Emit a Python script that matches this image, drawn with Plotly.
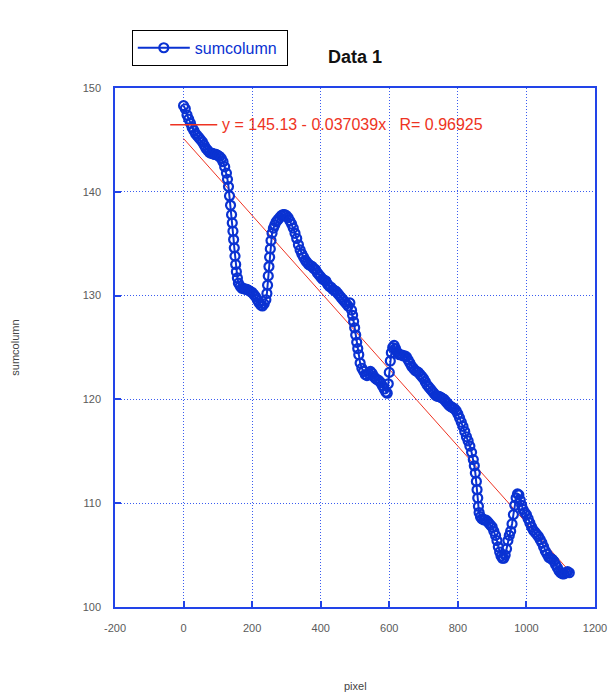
import plotly.graph_objects as go

# ---- data ----
pixel = [0, 5, 10, 15, 20, 25, 30, 35, 40, 45, 50, 55, 60, 65, 70, 75, 80, 85, 90, 95,
         100, 105, 110, 115, 120, 125, 128, 131, 134, 137, 140, 142, 144, 146, 148, 150,
         152, 154, 157, 160, 165, 170, 175, 180, 185, 190, 195, 200, 205, 210, 215, 220,
         225, 230, 235, 240, 243, 245, 247, 249, 251, 253, 255, 258, 262, 266, 270, 275,
         280, 285, 290, 295, 300, 305, 310, 315, 320, 325, 330, 335, 340, 345, 350, 355,
         360, 365, 370, 375, 380, 385, 390, 395, 400, 405, 410, 415, 420, 425, 430, 435,
         440, 445, 450, 455, 460, 465, 470, 475, 480, 485, 490, 493, 496, 499, 502, 505,
         508, 511, 515, 520, 525, 530, 535, 540, 545, 550, 555, 560, 565, 570, 575, 580,
         585, 590, 594, 597, 600, 603, 606, 610, 614, 618, 622, 626, 630, 635, 640, 645,
         650, 655, 660, 665, 670, 675, 680, 685, 690, 695, 700, 705, 710, 715, 720, 725,
         730, 735, 740, 745, 750, 755, 760, 765, 770, 775, 780, 785, 790, 795, 800, 805,
         810, 815, 820, 825, 830, 835, 840, 845, 848, 851, 854, 856, 858, 860, 862, 866,
         870, 875, 880, 885, 890, 895, 900, 905, 910, 914, 918, 922, 926, 930, 934, 938,
         942, 946, 950, 954, 958, 962, 966, 970, 974, 978, 982, 986, 990, 995, 1000, 1005,
         1010, 1015, 1020, 1025, 1030, 1035, 1040, 1045, 1050, 1055, 1060, 1065, 1070, 1075,
         1080, 1085, 1090, 1095, 1100, 1105, 1110, 1115, 1120, 1125]

sumcolumn = [148.3, 148.0, 147.4, 147.0, 146.6, 146.2, 145.9, 145.6, 145.4, 145.2, 145.0, 144.8,
             144.5, 144.2, 144.0, 143.8, 143.7, 143.7, 143.6, 143.6, 143.5, 143.4, 143.2, 142.9,
             142.4, 141.8, 141.2, 140.5, 139.6, 138.7, 137.8, 137.0, 136.2, 135.4, 134.6, 133.8,
             133.0, 132.3, 131.7, 131.2, 130.9, 130.7, 130.7, 130.6, 130.6, 130.5, 130.4, 130.3,
             130.1, 129.9, 129.6, 129.3, 129.1, 129.0, 129.2, 129.6, 130.2, 131.0, 131.9, 132.8,
             133.7, 134.5, 135.3, 136.0, 136.5, 136.8, 137.1, 137.3, 137.5, 137.7, 137.8, 137.8,
             137.7, 137.5, 137.2, 136.9, 136.5, 136.0, 135.5, 134.9, 134.4, 134.0, 133.7, 133.4,
             133.2, 133.0, 132.9, 132.8, 132.6, 132.5, 132.2, 132.0, 131.8, 131.6, 131.5, 131.4,
             131.1, 130.9, 130.8, 130.6, 130.5, 130.4, 130.2, 130.0, 129.8, 129.6, 129.4, 129.2,
             129.0, 129.3, 128.6, 128.1, 127.5, 126.9, 126.2, 125.5, 124.9, 124.3, 123.5, 123.0,
             122.7, 122.4, 122.3, 122.5, 122.7, 122.5, 122.2, 122.0, 121.9, 121.8, 121.6, 121.3,
             121.0, 120.7, 120.6, 121.5, 122.6, 123.7, 124.5, 125.0, 125.2, 124.9, 124.6, 124.4,
             124.3, 124.3, 124.2, 124.2, 124.1, 123.8, 123.5, 123.2, 123.0, 122.8, 122.7, 122.6,
             122.4, 122.2, 122.0, 121.7, 121.4, 121.2, 121.0, 120.8, 120.6, 120.4, 120.3, 120.3,
             120.2, 120.1, 120.0, 119.8, 119.6, 119.4, 119.3, 119.2, 119.1, 118.9, 118.6, 118.2,
             117.8, 117.4, 116.9, 116.4, 116.0, 115.5, 114.9, 114.2, 113.6, 112.9, 112.1, 111.3,
             110.5, 109.7, 109.1, 108.7, 108.5, 108.4, 108.4, 108.3, 108.1, 107.9, 107.7, 107.3,
             106.9, 106.4, 105.8, 105.3, 104.9, 104.7, 104.7, 105.0, 105.6, 106.4, 106.9, 107.3,
             108.0, 108.9, 109.8, 110.5, 110.9, 110.8, 110.3, 109.8, 109.4, 109.1, 108.9, 108.5,
             108.1, 107.7, 107.4, 107.2, 107.0, 106.8, 106.5, 106.2, 105.8, 105.4, 105.1, 104.8,
             104.7, 104.6, 104.4, 104.1, 103.8, 103.5, 103.3, 103.2, 103.2, 103.3, 103.4, 103.3]

# linear fit as printed on the chart
fit_intercept = 145.13
fit_slope = -0.037039
fit_r = 0.96925

x_ticks = [-200, 0, 200, 400, 600, 800, 1000, 1200]
x_tick_labels = ["-200", "0", "200", "400", "600", "800", "1000", "1200"]
y_ticks = [100, 110, 120, 130, 140, 150]
y_tick_labels = ["100", "110", "120", "130", "140", "150"]

BLUE_AX = "#2244e8"
BLUE_DATA = "#0a32d2"
RED = "#ee3322"

fit_x = [pixel[0], pixel[-1]]
fit_y = [fit_intercept + fit_slope * v for v in fit_x]

fig = go.Figure()
fig.add_trace(go.Scatter(x=fit_x, y=fit_y, mode="lines",
                         line=dict(color=RED, width=1), showlegend=False,
                         hoverinfo="skip"))
fig.add_trace(go.Scatter(x=pixel, y=sumcolumn, mode="lines+markers", name="sumcolumn\u00a0",
                         line=dict(color=BLUE_DATA, width=2),
                         marker=dict(symbol="circle-open", size=9,
                                     line=dict(color=BLUE_DATA, width=2.2))))

axis_common = dict(showline=True, linecolor=BLUE_AX, linewidth=1.5, mirror=True,
                   showgrid=True, gridcolor="#3a5cf0", gridwidth=1, griddash="1px,2px",
                   ticks="inside", ticklen=6, tickcolor=BLUE_AX, tickwidth=1.5,
                   zeroline=False, automargin=False,
                   tickfont=dict(family="Liberation Sans, Arial", size=11, color="#5a5a5a"))

fig.update_xaxes(range=[-200, 1200], tickvals=x_ticks, ticktext=x_tick_labels,
                 ticklabelstandoff=10, **axis_common)
fig.update_yaxes(range=[100, 150], tickvals=y_ticks, ticktext=y_tick_labels,
                 ticklabelstandoff=10, **axis_common)

fig.update_layout(
    width=610, height=692,
    margin=dict(l=115, r=15, t=88, b=85),
    paper_bgcolor="white", plot_bgcolor="white",
    font=dict(family="Liberation Sans, Arial", color="#333333"),
    showlegend=True,
    legend=dict(x=0.035, y=1.112, xanchor="left", yanchor="top",
                bordercolor="black", borderwidth=1, bgcolor="white",
                font=dict(size=16, color=BLUE_DATA, family="Liberation Sans, Arial"),
                itemwidth=52),
    annotations=[
        dict(text="<b>Data 1</b>", xref="paper", yref="paper", x=0.5, y=1.060,
             xanchor="center", yanchor="middle", showarrow=False,
             font=dict(size=18, color="#111111")),
        dict(text="pixel", xref="paper", yref="paper", x=0.5, y=-0.152,
             xanchor="center", yanchor="middle", showarrow=False,
             font=dict(size=11, color="#444444")),
        dict(text="sumcolumn", xref="paper", yref="paper", x=-0.21, y=0.5,
             xanchor="center", yanchor="middle", showarrow=False, textangle=-90,
             font=dict(size=11, color="#444444")),
        dict(text=f"y = {fit_intercept} - {abs(fit_slope)}x   R= {fit_r}",
             xref="paper", yref="paper", x=0.219, y=0.929,
             xanchor="left", yanchor="middle", showarrow=False,
             font=dict(size=16, color=RED)),
    ],
    shapes=[dict(type="line", xref="paper", yref="paper", x0=0.115, x1=0.213,
                 y0=0.929, y1=0.929, line=dict(color=RED, width=1.5))],
)

fig.write_html("out.html", config={"displayModeBar": False},
               post_script="document.body.style.margin='0';document.body.style.overflow='hidden';")
